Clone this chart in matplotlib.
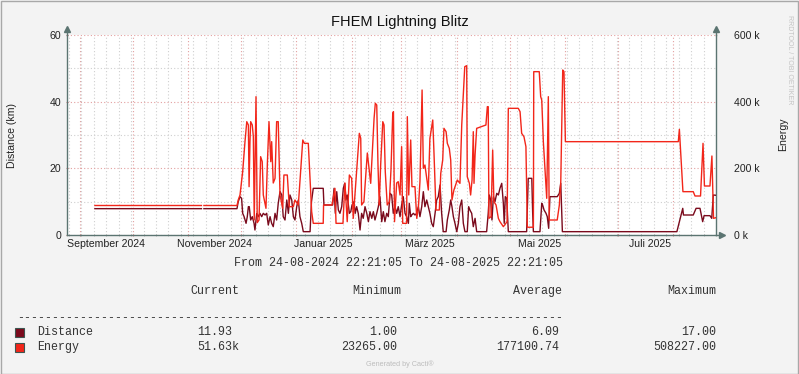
import matplotlib
matplotlib.use("Agg")
import matplotlib.pyplot as plt
import matplotlib.dates as mdates
from matplotlib.ticker import MultipleLocator, NullFormatter, FuncFormatter
from matplotlib.lines import Line2D
from matplotlib.patches import Rectangle
import numpy as np
import pandas as pd

#%% data (days since start)
start = pd.Timestamp("2024-08-24 22:21:05")
end = pd.Timestamp("2025-08-24 22:21:05")

energy_days = [15.7, 75.6, 76.3, 77.0, 95.6, 96.3, 97.3, 98.8, 100.1, 101.1,
               102.0, 102.4, 102.9, 103.3, 104.2, 104.8, 105.3, 106.3, 107.0, 108.0,
               108.9, 109.8, 110.4, 111.9, 112.7, 113.6, 114.6, 115.1, 116.0, 117.0,
               117.9, 118.8, 119.8, 121.3, 122.0, 123.9, 125.0, 127.3, 128.2, 130.1,
               131.4, 132.6, 133.5, 135.7, 136.7, 137.6, 138.5, 144.1, 144.3, 149.0,
               150.7, 151.3, 155.2, 156.3, 157.6, 158.8, 160.1, 161.0, 162.9, 164.4,
               165.2, 165.7, 167.0, 168.2, 168.9, 170.0, 170.8, 171.7, 172.7, 173.4,
               174.2, 174.9, 175.6, 176.4, 177.6, 178.3, 179.0, 180.1, 181.3, 182.2,
               183.2, 183.6, 184.2, 185.4, 186.3, 187.3, 188.2, 188.8, 191.0, 191.4,
               192.2, 193.3, 194.0, 195.7, 196.7, 197.6, 198.5, 199.7, 200.4, 201.3,
               202.3, 203.2, 204.1, 205.7, 206.4, 207.5, 209.4, 210.2, 211.3, 212.0,
               213.2, 213.9, 215.0, 215.8, 216.5, 217.6, 219.5, 221.0, 222.0, 222.9,
               223.7, 224.8, 225.1, 226.3, 227.0, 227.8, 228.5, 228.9, 229.5, 230.4,
               235.6, 236.4, 236.9, 237.3, 238.5, 239.4, 240.1, 241.3, 242.6, 243.5,
               245.4, 247.5, 248.2, 253.8, 254.8, 255.7, 257.0, 258.1, 258.9, 262.3,
               262.5, 265.6, 266.4, 267.0, 267.9, 268.8, 269.8, 270.7, 271.2, 275.7,
               276.9, 277.7, 278.8, 279.5, 280.3, 343.8, 344.4, 346.4, 352.2, 353.2,
               356.3, 357.7, 358.5, 361.6, 362.7, 363.6, 364.7]
energy_k = [88.5, 88.5, np.nan, 88.5, 88.5, 105, 120, 190, 280, 340,
            330, 145, 280, 340, 330, 295, 45, 415, 37, 45,
            235, 220, 120, 80, 216, 340, 220, 280, 156, 170,
            340, 340, 120, 80, 180, 180, 85, 85, 105, 90,
            190, 285, 275, 275, 165, 70, 35, 35, 90, 90,
            140, 35, 35, 156, 40, 180, 170, 50, 195, 305,
            290, 90, 100, 195, 246, 195, 155, 246, 350, 395,
            390, 210, 90, 210, 340, 330, 190, 90, 100, 195,
            365, 370, 40, 156, 160, 120, 265, 35, 35, 355,
            120, 285, 145, 145, 50, 80, 160, 435, 200, 210,
            170, 135, 290, 345, 245, 75, 75, 185, 225, 320,
            310, 275, 260, 225, 105, 135, 165, 155, 330, 425,
            505, 508, 175, 155, 120, 165, 310, 155, 240, 320,
            330, 385, 385, 50, 55, 255, 100, 90, 50, 40,
            25, 40, 380, 380, 370, 305, 295, 265, 23.3, 23.3,
            490, 490, 415, 405, 280, 200, 110, 415, 45, 45,
            90, 160, 495, 490, 280, 280, 317, 130, 130, 117,
            117, 275, 147, 147, 237, 50, 51.63]

dist_days = [15.7, 75.6, 76.3, 77.0, 95.6, 96.3, 97.3, 98.2, 98.8, 99.6,
             100.7, 101.4, 102.0, 102.5, 103.3, 104.2, 105.2, 105.7, 106.7, 107.6,
             108.5, 109.5, 110.4, 111.4, 112.3, 113.2, 114.2, 115.1, 116.0, 117.0,
             117.9, 118.8, 119.8, 120.8, 121.6, 122.6, 123.6, 124.5, 125.4, 126.4,
             127.3, 128.2, 129.2, 130.1, 131.0, 132.0, 132.9, 136.7, 137.5, 138.5,
             144.1, 144.5, 149.4, 150.2, 150.9, 151.7, 152.6, 153.5, 154.5, 155.4,
             156.2, 156.9, 157.6, 158.8, 159.6, 160.3, 161.4, 162.1, 162.9, 163.8,
             164.8, 165.7, 166.6, 167.6, 168.6, 169.5, 170.4, 171.4, 172.3, 173.2,
             174.2, 175.1, 176.0, 177.0, 177.9, 178.8, 179.8, 180.7, 181.7, 182.6,
             183.5, 184.5, 185.4, 186.3, 187.3, 188.2, 189.1, 190.1, 191.0, 192.0,
             192.5, 193.3, 193.9, 194.8, 195.7, 196.7, 197.6, 198.5, 199.5, 200.4,
             201.3, 202.3, 203.2, 204.1, 205.1, 206.0, 207.0, 207.9, 208.8, 209.8,
             210.7, 211.6, 213.2, 213.9, 215.0, 215.8, 216.5, 217.3, 218.2, 219.2,
             220.1, 221.0, 222.0, 222.9, 223.8, 225.1, 225.9, 226.6, 227.6, 228.5,
             229.5, 230.4, 236.0, 236.9, 237.5, 238.3, 239.0, 239.8, 240.7, 241.7,
             242.6, 243.5, 244.5, 245.4, 245.9, 246.5, 247.3, 248.2, 258.5, 259.4,
             261.4, 261.9, 262.3, 266.0, 267.0, 267.5, 268.3, 269.4, 270.1, 270.9,
             271.6, 275.7, 276.9, 277.7, 278.6, 343.0, 343.7, 346.3, 346.7, 352.2,
             353.8, 356.0, 357.5, 358.3, 361.6, 362.6, 363.5, 364.7]
dist_km = [7.9, 7.9, np.nan, 7.9, 7.9, 10, 11.5, 11, 6.5, 5.5,
           3.5, 5.5, 8.5, 8.5, 4.5, 5.5, 3.5, 1.5, 6.5, 5.5,
           6.5, 5.5, 6.5, 6, 6.5, 3, 5.5, 3.5, 2.5, 6.5,
           4.5, 9.5, 13, 12, 5.5, 4.5, 10.5, 6.5, 12, 10.5,
           5.5, 4.5, 8.5, 10.5, 5.5, 3.5, 1, 1, 10, 14,
           14, 9, 9, 14, 6.5, 13, 7.5, 6.5, 8.5, 14,
           15.5, 10.5, 12, 6.5, 7, 9, 10, 6.5, 8.5, 6.5,
           1.5, 6.5, 5, 8.5, 6.5, 4, 7, 5, 7, 4.5,
           6.5, 8.5, 11.5, 4, 7, 4, 6.5, 5.5, 12.5, 12,
           6.5, 8.5, 6.5, 8.5, 5.5, 9, 11.5, 6.5, 5.5, 3.5,
           9.5, 5.5, 6, 6.5, 6, 6.5, 8.5, 5.5, 8.5, 13,
           8.5, 10.5, 8.5, 6.5, 3.5, 2.5, 6.5, 10.5, 11.5, 15,
           6.5, 1, 1, 4.5, 7.5, 10.5, 8.5, 5.5, 3.5, 1,
           3.5, 8.5, 10.5, 3.5, 1, 1, 8.5, 7.5, 6.5, 2.5,
           5, 1, 1, 6.5, 12, 10.5, 4.5, 11.5, 10, 12.5,
           12, 14, 15.5, 9.5, 3.5, 11.5, 11, 1, 1, 17,
           17, 6.5, 1, 1, 9.5, 9, 7.5, 6.5, 5.5, 2,
           11.5, 11.5, 12.5, 15.5, 1, 1, 2.5, 8, 6, 6,
           8, 8, 4, 5.8, 5.8, 5, 12, 11.93]

month_labels = ["September 2024", "November 2024", "Januar 2025",
                "März 2025", "Mai 2025", "Juli 2025"]
label_dates = ["2024-09-16", "2024-11-16", "2025-01-16",
               "2025-03-17", "2025-05-18", "2025-07-19"]

legend_names = ["Distance", "Energy"]
cur_vals = ["11.93", "51.63k"]
min_vals = ["1.00", "23265.00"]
avg_vals = ["6.09", "177100.74"]
max_vals = ["17.00", "508227.00"]

#%% style
W, H = 799, 374
col_dist = "#7a0a1c"
col_energy = "#f2261a"
axis_col = "#5b7471"
sans = "Liberation Sans"
mono = "Liberation Mono"

def px(x, y):
    return x / W, 1 - y / H

fig = plt.figure(figsize=(W / 100, H / 100), dpi=100, facecolor="#f3f3f3")
ax = fig.add_axes([67 / W, 1 - 235 / H, (716 - 67) / W, 200 / H])
ax.set_facecolor("white")
ax2 = ax.twinx()

dist_t = start + pd.to_timedelta(dist_days, unit="D")
energy_t = start + pd.to_timedelta(energy_days, unit="D")

ax.plot(dist_t, dist_km, color=col_dist, lw=1.0, zorder=3)
ax2.plot(energy_t, energy_k, color=col_energy, lw=1.0, zorder=3)

ax.set_xlim(start, end)
ax.set_ylim(0, 60)
ax2.set_ylim(0, 600)

ax.xaxis.set_major_locator(mdates.MonthLocator())
ax.xaxis.set_minor_locator(mdates.WeekdayLocator(byweekday=mdates.MO))
ax.xaxis.set_major_formatter(NullFormatter())
ax.yaxis.set_major_locator(MultipleLocator(20))
ax.yaxis.set_minor_locator(MultipleLocator(10))
ax2.yaxis.set_major_locator(MultipleLocator(200))
ax2.yaxis.set_major_formatter(FuncFormatter(lambda v, p: f"{v:.0f} k"))

ax.grid(which="major", color="#e3a0a0", ls=(0, (1, 2)), lw=0.8)
ax.grid(which="minor", color="#cfcfcf", ls=(0, (1, 2)), lw=0.8)

ax.tick_params(axis="x", which="major", length=2, direction="inout", color="#d08080")
ax.tick_params(axis="x", which="minor", length=1.5, direction="inout", color="#b0b0b0")
ax.tick_params(axis="y", which="major", length=2, direction="inout", color="#d08080",
               labelsize=7.6, labelcolor="#222222", pad=3)
ax.tick_params(axis="y", which="minor", length=0)
ax2.tick_params(axis="y", length=0, labelsize=7.6, labelcolor="#222222", pad=13)
for lab in ax.get_yticklabels() + ax2.get_yticklabels():
    lab.set_family(sans)

ax.spines["top"].set_visible(False)
for s in ["left", "bottom", "right"]:
    ax.spines[s].set_color(axis_col)
    ax.spines[s].set_linewidth(1.0)
for s in ax2.spines.values():
    s.set_visible(False)

# axis arrows
for xa in (0, 1):
    fig.add_artist(Line2D([xa, xa], [1, 1.03], color=axis_col, lw=1.0, transform=ax.transAxes))
    fig.add_artist(Line2D([xa], [1.03], marker="^", ms=4, color=axis_col, transform=ax.transAxes))
fig.add_artist(Line2D([1, 1.009], [0, 0], color=axis_col, lw=1.0, transform=ax.transAxes))
fig.add_artist(Line2D([1.009], [0], marker=">", ms=4, color=axis_col, transform=ax.transAxes))

# month labels
trans = ax.get_xaxis_transform()
for d, lab in zip(label_dates, month_labels):
    ax.text(pd.Timestamp(d), -0.045, lab, transform=trans, ha="center", va="center",
            fontsize=7.6, family=sans, color="#222222")

# titles and axis labels
fig.text(*px(400, 22), "FHEM Lightning Blitz", ha="center", va="center",
         fontsize=10.5, family=sans, color="#111111")
fig.text(*px(12, 135), "Distance (km)", rotation=90, ha="center", va="center",
         fontsize=7.6, family=sans, color="#222222")
fig.text(*px(783, 134), "Energy", rotation=90, ha="center", va="center",
         fontsize=7.6, family=sans, color="#222222")
fig.text(*px(790, 60), "RRDTOOL / TOBI OETIKER", rotation=270, ha="center", va="center",
         fontsize=5, family=sans, color="#c4c4c4")

# legend block
fs = 8.4
fig.text(*px(399, 263), "From 24-08-2024 22:21:05 To 24-08-2025 22:21:05",
         ha="center", va="center", fontsize=fs, family=mono, color="#333333")
for hx, hd in zip([239, 401, 562, 716], ["Current", "Minimum", "Average", "Maximum"]):
    fig.text(*px(hx, 291), hd, ha="right", va="center", fontsize=fs, family=mono, color="#333333")
fig.text(*px(17, 318), "-" * 78, ha="left", va="center", fontsize=fs, family=mono, color="#333333")

rows_y = [332, 347]
for i, (name, col) in enumerate(zip(legend_names, [col_dist, col_energy])):
    y = rows_y[i]
    fig.add_artist(Rectangle(px(15, y + 4.5), 8.5 / W, 8.5 / H, transform=fig.transFigure,
                             facecolor=col, edgecolor="#3d5550", lw=0.8))
    fig.text(*px(37, y), name, ha="left", va="center", fontsize=fs, family=mono, color="#333333")
    fig.text(*px(197, y), cur_vals[i], ha="left", va="center", fontsize=fs, family=mono, color="#333333")
    fig.text(*px(397, y), min_vals[i], ha="right", va="center", fontsize=fs, family=mono, color="#333333")
    fig.text(*px(559, y), avg_vals[i], ha="right", va="center", fontsize=fs, family=mono, color="#333333")
    fig.text(*px(716, y), max_vals[i], ha="right", va="center", fontsize=fs, family=mono, color="#333333")

fig.text(*px(400, 364), "Generated by Cacti®", ha="center", va="center",
         fontsize=5.2, family=sans, color="#bdbdbd")

# outer frame
fig.add_artist(Rectangle((0.5 / W, 0.5 / H), 1 - 1.5 / W, 1 - 1.5 / H, transform=fig.transFigure,
                         fill=False, edgecolor="#a8a8a8", lw=1.0))

fig.savefig("out.png", dpi=100, facecolor=fig.get_facecolor())
